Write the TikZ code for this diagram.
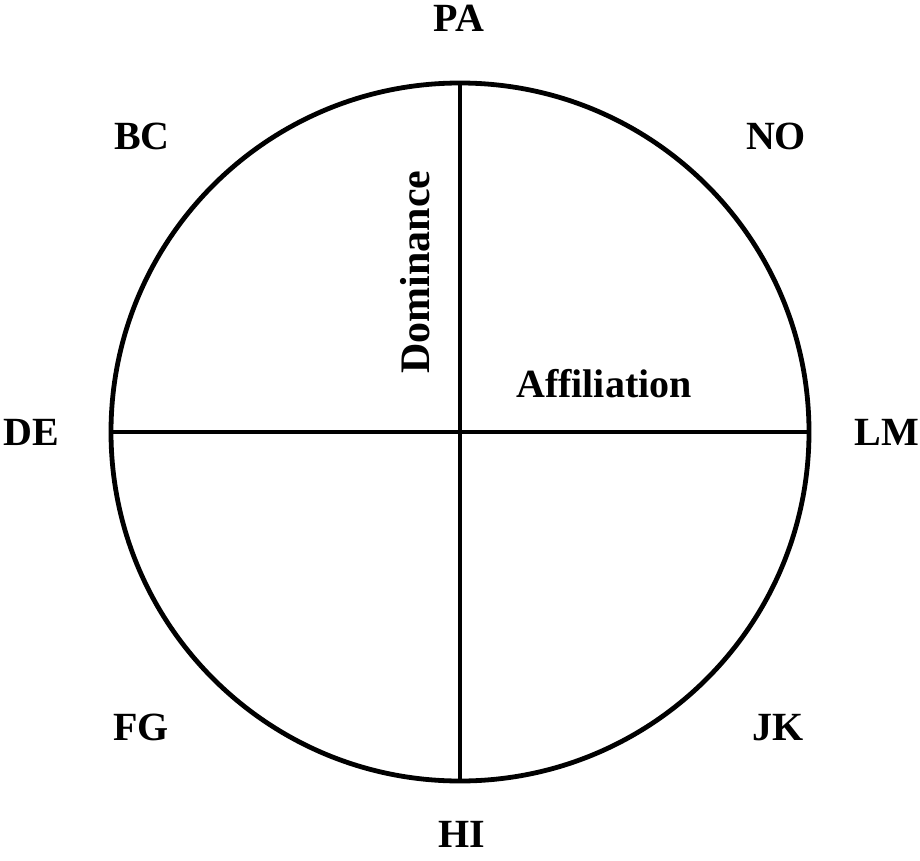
\documentclass[tikz,border=0pt]{standalone}
\usepackage{fontspec}
\setmainfont{Liberation Serif}
\begin{document}
\begin{tikzpicture}[x=1pt,y=-1pt,
  lbl/.style={font=\fontsize{40}{44}\selectfont\bfseries, inner sep=0pt, anchor=base},
  axis/.style={line width=4.8pt}]
\useasboundingbox (0,0) rectangle (920,861);
\coordinate (C) at (460,432);
\draw[axis] (C) circle[radius=349];
\coordinate (T) at (460,83);
\coordinate (B) at (460,781);
\coordinate (L) at (111,432);
\coordinate (R) at (809,432);
\draw[axis] (T) -- (B);
\draw[axis] (L) -- (R);
\node[lbl] (pa) at (459,32) {PA};
\node[lbl] (bc) at (142,150) {BC};
\node[lbl] (no) at (776,150) {NO};
\node[lbl] (de) at (31,445) {DE};
\node[lbl] (lm) at (887,445) {LM};
\node[lbl] (fg) at (141,740) {FG};
\node[lbl] (jk) at (778,740) {JK};
\node[lbl] (hi) at (462,847) {HI};
\node[lbl, rotate=90, font=\fontsize{42}{46}\selectfont\bfseries] (dom) at (429,272) {Dominance};
\node[lbl] (aff) at (604,397) {Affiliation};
\end{tikzpicture}
\end{document}
